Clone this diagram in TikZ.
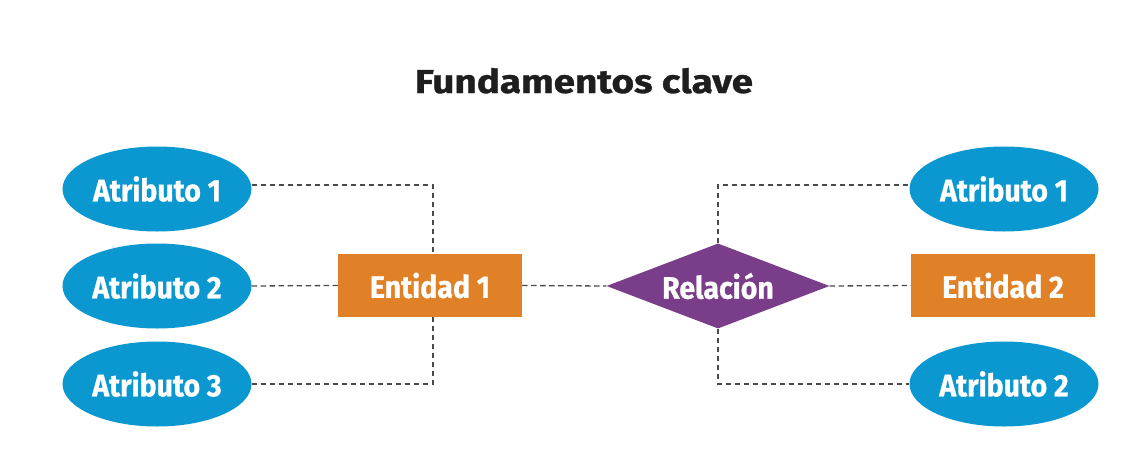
\documentclass[tikz,border=0pt]{standalone}
\usepackage{fontspec}
\setmainfont{Fira Sans}
\newfontfamily\heavy{Fira Sans}[BoldFeatures={FakeBold=0.8}]
\usetikzlibrary{shapes.geometric}
\definecolor{attrblue}{HTML}{0B97CF}
\definecolor{entorange}{HTML}{E08127}
\definecolor{relpurple}{HTML}{7A3D89}
\definecolor{dashgray}{HTML}{4A4A4A}
\definecolor{titlecol}{HTML}{1E1E1E}
\newcommand\lab[1]{\scalebox{0.92}[1]{#1}}
\tikzset{
  lbl/.style={text=white, font=\heavy\fontsize{31}{31}\selectfont\bfseries},
  attr/.style={ellipse, fill=attrblue, minimum width=189pt, minimum height=85pt, inner sep=0pt, lbl},
  ent/.style={rectangle, fill=entorange, minimum width=184pt, minimum height=63pt, inner sep=0pt, lbl},
  rel/.style={diamond, fill=relpurple, minimum width=223pt, minimum height=85pt, inner sep=0pt},
  link/.style={draw=dashgray, line width=1.3pt, dash pattern=on 5.5pt off 3.5pt}
}
\begin{document}
\begin{tikzpicture}[x=1pt, y=-1pt]
\useasboundingbox[fill=white] (0,0) rectangle (1137,471);
\node[text=titlecol, font=\heavy\fontsize{33}{33}\selectfont\bfseries, anchor=base] (title) at (584,93) {\scalebox{1.17}[1]{Fundamentos clave}};
\node[attr] (a1) at (157,189) {\lab{Atributo 1}};
\node[attr] (a2) at (157,286) {\lab{Atributo 2}};
\node[attr] (a3) at (157,384) {\lab{Atributo 3}};
\node[ent] (e1) at (430,285.5) {\lab{Entidad 1}};
\node[rel] (r) at (718,286) {};
\node[lbl] (rt) at (r.center) {\lab{Relación}};
\node[ent] (e2) at (1003,285.5) {\lab{Entidad 2}};
\node[attr] (b1) at (1004,189) {\lab{Atributo 1}};
\node[attr] (b2) at (1004,384) {\lab{Atributo 2}};
\coordinate (c1) at (433,185);
\coordinate (c3) at (433,384);
\coordinate (d1) at (718,185);
\coordinate (d2) at (718,384);
\draw[link] (a1.east |- c1) -- (c1) -- (c1 |- e1.north);
\draw[link] (a2.east) -- (e1.west);
\draw[link] (a3.east |- c3) -- (c3) -- (c3 |- e1.south);
\draw[link] (e1.east) -- (r.west);
\draw[link] (r.east) -- (e2.west);
\draw[link] (r.north) -- (d1) -- (d1 -| b1.west);
\draw[link] (r.south) -- (d2) -- (d2 -| b2.west);
\end{tikzpicture}
\end{document}
